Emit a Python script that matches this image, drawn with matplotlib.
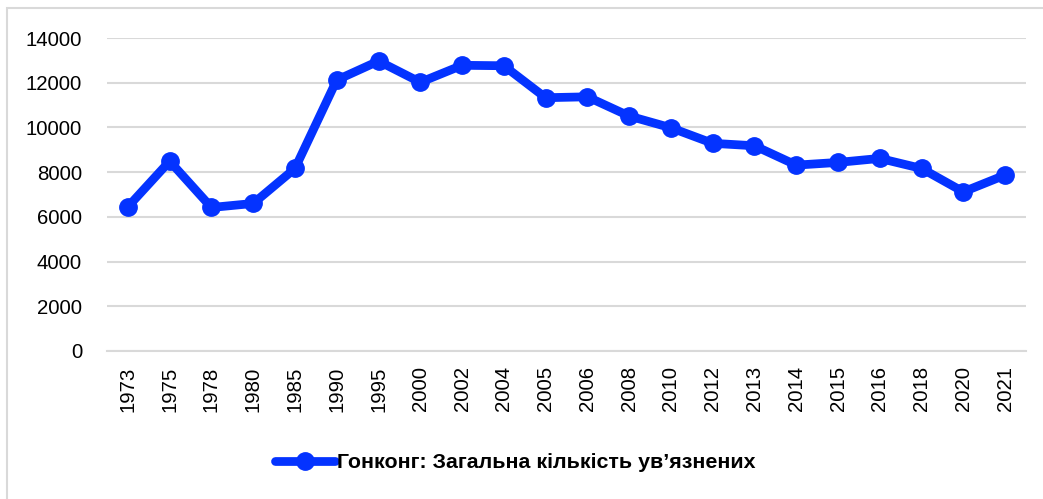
import matplotlib.pyplot as plt
from matplotlib.patches import Rectangle

years = ['1973', '1975', '1978', '1980', '1985', '1990', '1995', '2000', '2002', '2004',
         '2005', '2006', '2008', '2010', '2012', '2013', '2014', '2015', '2016', '2018',
         '2020', '2021']
prisoners = [6450, 8490, 6420, 6600, 8165, 12120, 12970, 12020, 12780, 12760,
             11330, 11370, 10510, 9985, 9290, 9180, 8315, 8435, 8615, 8165,
             7120, 7870]
yticks = [0, 2000, 4000, 6000, 8000, 10000, 12000, 14000]
label = 'Гонконг: Загальна кількість ув’язнених'

plt.rcParams['font.family'] = ['Liberation Sans', 'DejaVu Sans']

fig = plt.figure(figsize=(10.43, 4.99), dpi=100)
ax = fig.add_axes([0.1026, 0.2966, 0.8811, 0.6272])

x = range(len(years))
line, = ax.plot(x, prisoners, color='#0433ff', lw=6.3, marker='o', markersize=12.5,
                solid_capstyle='round', solid_joinstyle='round', label=label)

ax.set_xlim(-0.5, len(years) - 0.5)
ax.set_ylim(0, 14000)
ax.set_yticks(yticks)
ax.set_xticks(list(x))
ax.set_xticklabels(years, rotation=90)
ax.grid(axis='y', color='#d9d9d9', lw=1.5)
ax.set_axisbelow(True)
for s in ['top', 'right', 'left']:
    ax.spines[s].set_visible(False)
ax.spines['bottom'].set_color('#d9d9d9')
ax.spines['bottom'].set_linewidth(1.5)
ax.tick_params(axis='both', length=0, labelsize=14.7, colors='black')
ax.tick_params(axis='y', pad=18)
ax.tick_params(axis='x', pad=11)

fig.legend(handles=[line], loc='center', bbox_to_anchor=(515 / 1043, 1 - 463 / 499),
           frameon=False, handlelength=2.8, handletextpad=0.1,
           prop={'weight': 'bold', 'size': 15.4})

# outer chart border: only top and left edges are visible in the crop
fig.patches.append(Rectangle((7 / 1043, -0.1), 1.2, 1.1 - 8 / 499,
                             transform=fig.transFigure, fill=False,
                             edgecolor='#d9d9d9', lw=1.5))

fig.savefig('out.png', dpi=100)
